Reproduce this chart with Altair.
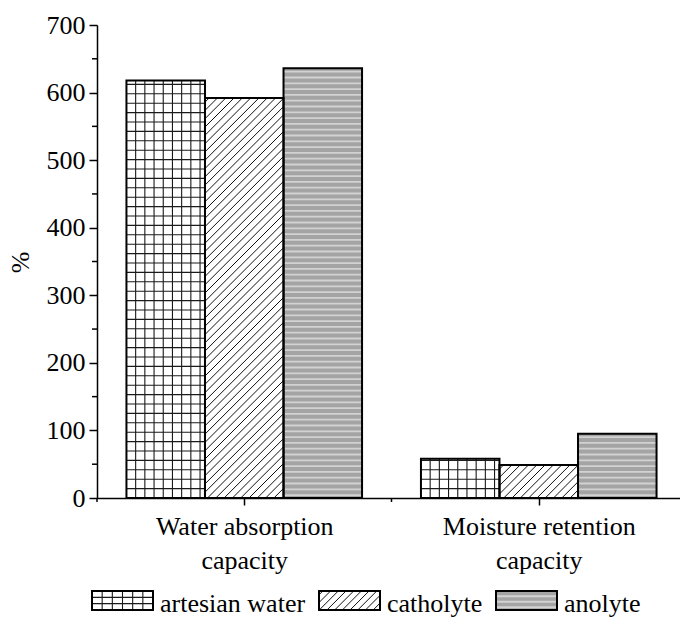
import json

import altair as alt
import numpy as np
import pandas as pd

# ---------------- data ----------------
categories = ["Water absorption capacity", "Moisture retention capacity"]
series = ["artesian water", "catholyte", "anolyte"]
artesian_water = [618, 58]
catholyte = [592, 49]
anolyte = [636, 95]
y_ticks = [0, 100, 200, 300, 400, 500, 600, 700]
y_minor_ticks = [50, 150, 250, 350, 450, 550, 650]
y_max = 700

values_by_series = [artesian_water, catholyte, anolyte]

# ---------------- layout / style ----------------
FONT = "Liberation Serif"
FS = 26
PLOT_W = 583          # visible plot width
PLOT_H = 473
X_SPAN = 589          # pixel length of the x scale (axis runs past the right edge)
PAD = {"left": 97, "top": 25, "right": 0, "bottom": 123}
PX_X = X_SPAN / len(categories)   # pixels per category unit
PX_Y = PLOT_H / y_max             # pixels per percent
GROUP_W = 0.8
BAR_W = GROUP_W / len(series)

fills = ["white", "white", "#a4a4a4"]
patterns = ["grid", "diag", "stripe"]
# pattern spacing in pixels: (bar, legend swatch)
spacing = {
    "grid": ((9.2, 9.4), (61 / 6, 19 / 3)),
    "diag": ((8.3, 0), (7.7, 0)),
    "stripe": ((0, 5.8), (0, 5.5)),
}

# legend swatches (pixel positions on the page)
LEG_LEFT = [92, 319, 496]
LEG_W = 61
LEG_TOP, LEG_BOTTOM = 591, 610
LEG_TEXT_GAP = 7
LEG_BASELINE = 612


def px_to_x(px):
    return (px - PAD["left"]) / PX_X


def px_to_y(py):
    return (PAD["top"] + PLOT_H - py) / PX_Y


def hatch(pattern, x0, x1, y0, y1, sx, sy):
    """Line segments (in data units) filling the rectangle with a pattern."""
    X0, X1 = x0 * PX_X, x1 * PX_X
    Y0, Y1 = y0 * PX_Y, y1 * PX_Y
    segs = []
    if pattern == "grid":
        for X in np.arange(X0 + sx, X1 - 1.5, sx):
            segs.append((X, Y0, X, Y1))
        for Y in np.arange(Y0 + sy, Y1 - 1.5, sy):
            segs.append((X0, Y, X1, Y))
    elif pattern == "diag":
        for off in np.arange(X0 - Y1 + sx / 2, X1 - Y0, sx):
            xa = max(X0, off + Y0)
            xb = min(X1, off + Y1)
            if xb - xa > 0.5:
                segs.append((xa, xa - off, xb, xb - off))
    elif pattern == "stripe":
        for Y in np.arange(Y0 + sy / 2, Y1 - 1.0, sy):
            segs.append((X0, Y, X1, Y))
    return [
        dict(pattern=pattern, x=a / PX_X, x2=c / PX_X, y=b / PX_Y, y2=d / PX_Y)
        for a, b, c, d in segs
    ]


# bars + legend swatches as rectangles
rects = []
for gi, cat in enumerate(categories):
    for si, s in enumerate(series):
        x0 = gi + (1 - GROUP_W) / 2 + si * BAR_W
        rects.append(dict(series=s, pattern=patterns[si], kind="bar",
                          x0=x0, x1=x0 + BAR_W, y0=0.0,
                          y1=float(values_by_series[si][gi])))
for si, s in enumerate(series):
    rects.append(dict(series=s, pattern=patterns[si], kind="legend",
                      x0=px_to_x(LEG_LEFT[si]), x1=px_to_x(LEG_LEFT[si] + LEG_W),
                      y0=px_to_y(LEG_BOTTOM), y1=px_to_y(LEG_TOP)))
rect_df = pd.DataFrame(rects)

hatch_rows = []
for r in rects:
    (sx, sy) = spacing[r["pattern"]][0 if r["kind"] == "bar" else 1]
    hatch_rows += hatch(r["pattern"], r["x0"], r["x1"], r["y0"], r["y1"], sx, sy)
hatch_df = pd.DataFrame(hatch_rows)

legend_text_df = pd.DataFrame({
    "series": series,
    "tx": [px_to_x(LEG_LEFT[i] + LEG_W + LEG_TEXT_GAP) for i in range(len(series))],
    "ty": [px_to_y(LEG_BASELINE)] * len(series),
})

# two-line category labels
label_expr = " : ".join(
    f"datum.value == {i + 0.5} ? {json.dumps(c.rsplit(' ', 1))}"
    for i, c in enumerate(categories)
) + " : ''"

x_scale = alt.Scale(domain=[0, len(categories)], range=[0, X_SPAN], nice=False, zero=False)
y_scale = alt.Scale(domain=[0, y_max], nice=False, zero=False)

x_axis = alt.Axis(
    values=[i + 0.5 for i in range(len(categories))], labelExpr=label_expr, title=None,
    grid=False, tickSize=7, tickWidth=1.5, tickColor="black", domainColor="black",
    domainWidth=1.5, labelPadding=8, labelLineHeight=34, labelBaseline="top",
    labelFont=FONT, labelFontSize=FS, labelColor="black", labelFlush=False,
    labelOverlap=False, labelLimit=400,
)
y_axis = alt.Axis(
    values=y_ticks, title="%", grid=False, tickSize=8, tickWidth=1.5,
    tickColor="black", domainColor="black", domainWidth=1.5, labelPadding=4,
    labelFont=FONT, labelFontSize=FS, labelColor="black", labelFlush=False,
    titleFont=FONT, titleFontSize=FS, titleFontWeight="normal", titleColor="black",
    titleAngle=270, titleX=-77, titleY=237, titleAlign="center", titleBaseline="middle",
)

rect_base = alt.Chart(rect_df)
fill_layer = rect_base.mark_rect(strokeWidth=0).encode(
    x=alt.X("x0:Q", scale=x_scale, axis=x_axis),
    x2="x1",
    y=alt.Y("y0:Q", scale=y_scale, axis=y_axis),
    y2="y1",
    fill=alt.Fill("series:N", scale=alt.Scale(domain=series, range=fills), legend=None),
)


def hatch_layer(pattern, color, width):
    return alt.Chart(hatch_df).transform_filter(
        alt.datum.pattern == pattern
    ).mark_rule(color=color, strokeWidth=width).encode(
        x="x:Q", x2="x2", y="y:Q", y2="y2",
    )


grid_layer = hatch_layer("grid", "#1a1a1a", 1.1)
diag_layer = hatch_layer("diag", "#111111", 1.0)
stripe_layer = hatch_layer("stripe", "#d2d2d2", 1.8)

outline_layer = rect_base.mark_rect(fillOpacity=0, stroke="black", strokeWidth=2).encode(
    x="x0:Q", x2="x1", y="y0:Q", y2="y1",
)

y_minor = alt.Chart(pd.DataFrame({"v": y_minor_ticks})).mark_rule(
    color="black", strokeWidth=1.5
).encode(y="v:Q", x=alt.value(-5), x2=alt.value(0))

x_minor = alt.Chart(pd.DataFrame({"v": list(range(len(categories) + 1))})).mark_rule(
    color="black", strokeWidth=1.5
).encode(x="v:Q", y=alt.value(PLOT_H), y2=alt.value(PLOT_H + 4))

legend_text = alt.Chart(legend_text_df).mark_text(
    align="left", baseline="alphabetic", font=FONT, fontSize=FS, color="black"
).encode(x="tx:Q", y="ty:Q", text="series:N")

chart = alt.layer(
    fill_layer, grid_layer, diag_layer, stripe_layer, outline_layer,
    y_minor, x_minor, legend_text,
).properties(
    width=PLOT_W, height=PLOT_H, padding=PAD,
    autosize=alt.AutoSizeParams(type="none"), background="white",
).configure_view(stroke=None)

chart.save("out.html", embed_options={"renderer": "svg", "actions": False})
